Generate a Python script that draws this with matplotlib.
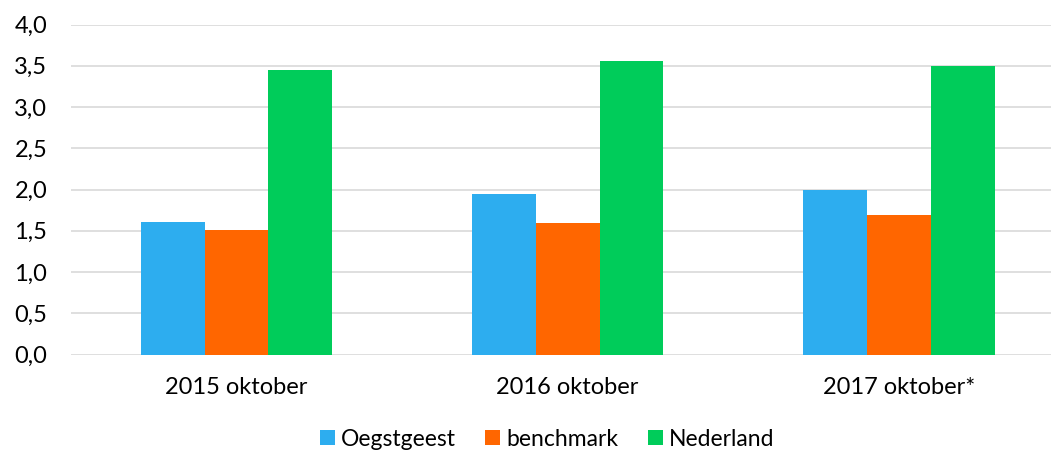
import matplotlib.pyplot as plt
import numpy as np

plt.rcParams['font.family'] = ['Lato', 'DejaVu Sans']

categories = ['2015 oktober', '2016 oktober', '2017 oktober*']
oegstgeest = [1.61, 1.95, 1.99]
benchmark = [1.51, 1.59, 1.69]
nederland = [3.45, 3.56, 3.50]
y_ticks = [0.0, 0.5, 1.0, 1.5, 2.0, 2.5, 3.0, 3.5, 4.0]

fig = plt.figure(figsize=(10.51, 4.53), dpi=100)
ax = fig.add_axes([71 / 1051, 1 - 354.5 / 453, 1 - 71 / 1051, (354.5 - 24.5) / 453])

x = np.arange(len(categories))
w = 0.193
ax.bar(x - w, oegstgeest, w, color='#2DADEF', label='Oegstgeest', zorder=3)
ax.bar(x, benchmark, w, color='#FF6600', label='benchmark', zorder=3)
ax.bar(x + w, nederland, w, color='#00CC5A', label='Nederland', zorder=3)

ax.set_xlim(-0.5, 2.46)
ax.set_ylim(0, 4)
ax.set_yticks(y_ticks)
ax.set_yticklabels([('%.1f' % v).replace('.', ',') for v in y_ticks])
ax.set_xticks(x)
ax.set_xticklabels(categories)
ax.tick_params(axis='both', length=0, labelsize=17, colors='#000000')
ax.tick_params(axis='y', pad=17)
ax.tick_params(axis='x', pad=16)
ax.yaxis.grid(True, color='#D9D9D9', linewidth=1.2, zorder=0)
for s in ax.spines.values():
    s.set_visible(False)

fig.legend(loc='center', bbox_to_anchor=(547 / 1051, 1 - 439 / 453), ncol=3,
           frameon=False, fontsize=16.5, handlelength=0.65, handleheight=0.65,
           handletextpad=0.25, columnspacing=1.3)

fig.savefig('out.png', dpi=100)
